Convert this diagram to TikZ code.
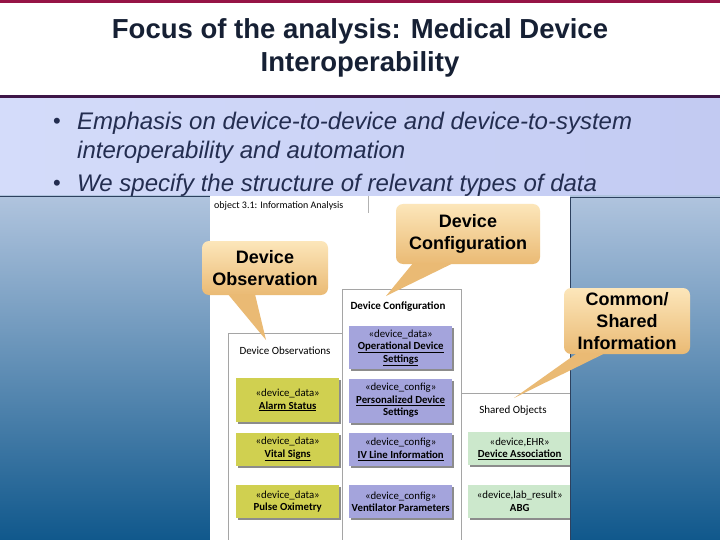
\documentclass[tikz,border=0pt]{standalone}
\usepackage{fontspec}
\setmainfont{Liberation Sans}
\newfontfamily\shotfont{Carlito}
\usetikzlibrary{positioning, shadows, calc}
\definecolor{ttlnavy}{RGB}{22, 32, 52}
\definecolor{bltnavy}{RGB}{35, 45, 80}
\definecolor{topred}{RGB}{150, 20, 70}
\definecolor{barpurple}{RGB}{62, 22, 72}
\definecolor{bandlight}{RGB}{212, 220, 250}
\definecolor{banddark}{RGB}{194, 202, 242}
\definecolor{bgtop}{RGB}{176, 196, 222}
\definecolor{bgbot}{RGB}{16, 88, 140}
\definecolor{bgline}{RGB}{45, 65, 95}
\definecolor{calltop}{RGB}{252, 230, 186}
\definecolor{callbot}{RGB}{234, 186, 116}
\definecolor{obsyellow}{RGB}{208, 208, 80}
\definecolor{cfgblue}{RGB}{164, 164, 220}
\definecolor{shrgreen}{RGB}{204, 232, 204}
\definecolor{pkggray}{RGB}{165, 165, 165}

\begin{document}
\begin{tikzpicture}[
      x=1pt, y=-1pt,
      callout/.style={rounded corners=7pt, top color=calltop, bottom color=callbot,
                      font=\fontsize{18}{22}\selectfont\bfseries, align=center, inner sep=2pt},
      tail/.style={fill=callbot},
      pkg/.style={draw=pkggray, fill=white, line width=0.6pt, anchor=north west},
      pkglabel/.style={font=\shotfont\fontsize{11}{13}\selectfont},
      cls/.style={anchor=north west, minimum width=103pt, align=center, inner sep=1pt,
                  font=\shotfont\fontsize{10.8}{12.5}\selectfont,
                  drop shadow={shadow xshift=2pt, shadow yshift=-2pt, fill=black!45, opacity=1}},
      obscls/.style={cls, fill=obsyellow},
      cfgcls/.style={cls, fill=cfgblue},
      shrcls/.style={cls, fill=shrgreen},
      bullettext/.style={font=\fontsize{24}{29}\selectfont\itshape, text=bltnavy, align=left, inner sep=0pt},
    ]
      \useasboundingbox (0,0) rectangle (720,540);
      % slide background
      \fill[white] (0,0) rectangle (720,96);
      \fill[topred] (0,0) rectangle (720,3);
      \shade[left color=bandlight, right color=banddark] (0,96) rectangle (720,196);
      \fill[barpurple] (0,95) rectangle (720,98.5);
      \shade[top color=bgtop, bottom color=bgbot] (0,196) rectangle (210,540);
      \draw[bgline, line width=0.8pt] (0,196) -- (210,196);

      \node[font=\fontsize{27.5}{33}\selectfont\bfseries, text=ttlnavy, align=center] (title) at (360,48)
        {Focus of the analysis: Medical Device\\Interoperability};

      \node[bullettext, anchor=west] (b1) at (77,138) {Emphasis on device-to-device and device-to-system\\interoperability and automation};
      \node[bullettext, anchor=west] (b2) at (77,185) {We specify the structure of relevant types of data};
      \node[font=\fontsize{22}{22}\selectfont, text=bltnavy] (d1) at (57,123) {\textbullet};
      \node[font=\fontsize{22}{22}\selectfont, text=bltnavy] (d2) at (57,185) {\textbullet};

      % screenshot of the model
      \fill[white] (210,196) rectangle (570,540);
      \node[anchor=west, inner sep=1pt, font=\shotfont\fontsize{10}{12}\selectfont] (tab) at (213,206) {object 3.1: Information Analysis};
      \draw[gray!60] (368,196) -- (368,213);

      \node[pkg, minimum width=114pt, minimum height=215pt] (obspkg) at (228,333) {};
      \node[pkg, minimum width=119pt, minimum height=260pt] (cfgpkg) at (342,289) {};
      \node[pkg, minimum width=115pt, minimum height=155pt] (shrpkg) at (461,393) {};
      \node[pkglabel] (obslbl) at (285,351) {Device Observations};
      \node[pkglabel, font=\shotfont\fontsize{11}{13}\selectfont\bfseries] (cfglbl) at (398,307) {Device Configuration};
      \node[pkglabel] (shrlbl) at (513,411) {Shared Objects};

      \node[obscls, minimum height=44pt] (alarm) at (236,378) {«device\_data»\\\textbf{\underline{Alarm Status}}};
      \node[obscls, minimum height=33pt, below=10pt of alarm] (vital) {«device\_data»\\\textbf{\underline{Vital Signs}}};
      \node[obscls, minimum height=33pt, below=19pt of vital] (pulse) {«device\_data»\\\textbf{Pulse Oximetry}};

      \node[cfgcls, minimum height=43pt] (oper) at (349,326) {«device\_data»\\\textbf{\underline{Operational Device}}\\\textbf{\underline{Settings}}};
      \node[cfgcls, minimum height=44pt, below=9pt of oper] (pers) {«device\_config»\\\textbf{\underline{Personalized Device}}\\\textbf{Settings}};
      \node[cfgcls, minimum height=33pt, below=10pt of pers] (ivline) {«device\_config»\\\textbf{\underline{IV Line Information}}};
      \node[cfgcls, minimum height=33pt, below=19pt of ivline] (vent) {«device\_config»\\\textbf{Ventilator Parameters}};

      \node[shrcls, minimum height=33pt] (assoc) at (468,432) {«device,EHR»\\\textbf{\underline{Device Association}}};
      \node[shrcls, minimum height=33pt, below=19pt of assoc] (abg) {«device,lab\_result»\\\textbf{ABG}};

      % right panel
      \shade[top color=bgtop, bottom color=bgbot] (570,196) rectangle (720,540);
      \draw[bgline, line width=0.8pt] (570,540) -- (570,197) -- (720,197);

      % callouts
      \coordinate (obstip) at (266,340);
      \coordinate (cfgtip) at (386,296);
      \coordinate (shrtip) at (514,398);
      \node[callout, minimum width=126pt, minimum height=54pt] (obs) at (265,268) {Device\\Observation};
      \node[callout, minimum width=144pt, minimum height=60pt] (cfg) at (468,234) {Device\\Configuration};
      \node[callout, minimum width=126pt, minimum height=66pt] (shr) at (627,321) {Common/\\Shared\\Information};
      \fill[tail] ([xshift=-37pt, yshift=1pt]obs.south) -- (obstip) -- ([xshift=-10pt, yshift=1pt]obs.south) -- cycle;
      \fill[tail] ([xshift=-55pt, yshift=1pt]cfg.south) -- (cfgtip) -- ([xshift=-15pt, yshift=1pt]cfg.south) -- cycle;
      \fill[tail] ([xshift=-50pt, yshift=1pt]shr.south) -- (shrtip) -- ([xshift=-22pt, yshift=1pt]shr.south) -- cycle;
    \end{tikzpicture}
\end{document}
